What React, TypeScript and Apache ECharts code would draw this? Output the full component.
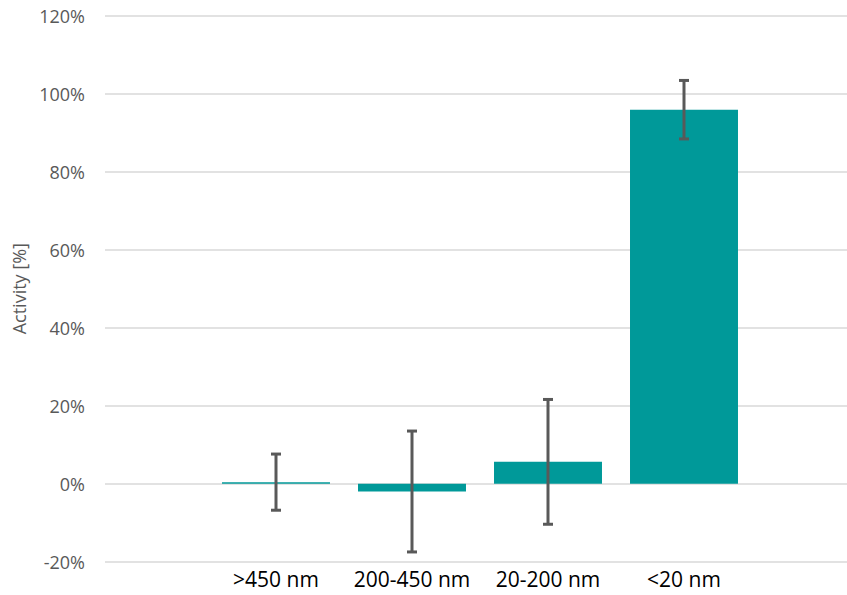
import React, { useEffect, useRef } from "react";
import * as echarts from "echarts";

const categories = [">450 nm", "200-450 nm", "20-200 nm", "<20 nm"];
const activityMean = [0.4, -2.0, 5.6, 95.9];
const activityError = [7.2, 15.5, 16.0, 7.5];
const yTicks = { min: -20, max: 120, interval: 20 };

export default function App() {
  const ref = useRef<HTMLDivElement>(null);
  useEffect(() => {
    if (!ref.current) return;
    const chart = echarts.init(ref.current, null, { renderer: "svg" });
    const font = "'Open Sans', 'Liberation Sans', sans-serif";
    const gridTop = 15.7;
    const gridBottom = 595 - 561.7;
    chart.setOption({
      animation: false,
      backgroundColor: "#ffffff",
      grid: [
        { left: 105, right: 0, top: gridTop, bottom: gridBottom },
        { left: 208, right: 95, top: gridTop, bottom: gridBottom },
      ],
      xAxis: [
        { type: "category", gridIndex: 0, data: [""], show: false },
        {
          type: "category",
          gridIndex: 1,
          data: categories,
          axisLine: { show: false },
          axisTick: { show: false },
          axisLabel: {
            color: "#000000",
            fontSize: 21,
            fontFamily: font,
            margin: 7,
            interval: 0,
            hideOverlap: false,
          },
        },
      ],
      yAxis: [
        {
          type: "value",
          gridIndex: 0,
          min: yTicks.min,
          max: yTicks.max,
          interval: yTicks.interval,
          name: "Activity [%]",
          nameLocation: "middle",
          nameGap: 75,
          nameTextStyle: { color: "#595959", fontSize: 18, fontFamily: font },
          axisLine: { show: false },
          axisTick: { show: false },
          axisLabel: { color: "#595959", fontSize: 18, fontFamily: font, margin: 20, formatter: "{value}%" },
          splitLine: { lineStyle: { color: "#d9d9d9", width: 1.5 } },
        },
        {
          type: "value",
          gridIndex: 1,
          min: yTicks.min,
          max: yTicks.max,
          interval: yTicks.interval,
          show: false,
          splitLine: { show: false },
        },
      ],
      series: [
        {
          type: "bar",
          xAxisIndex: 1,
          yAxisIndex: 1,
          data: activityMean,
          barWidth: "79.4%",
          itemStyle: { color: "#009999" },
        },
        {
          type: "custom",
          xAxisIndex: 1,
          yAxisIndex: 1,
          data: categories.map((c, i) => [i, activityMean[i], activityError[i]]),
          renderItem: (params: any, api: any) => {
            const x = api.value(0);
            const m = api.value(1);
            const e = api.value(2);
            const top = api.coord([x, m + e]);
            const bot = api.coord([x, m - e]);
            const half = 5;
            const style = { stroke: "#595959", lineWidth: 3 };
            return {
              type: "group",
              children: [
                { type: "line", shape: { x1: top[0], y1: top[1], x2: bot[0], y2: bot[1] }, style },
                { type: "line", shape: { x1: top[0] - half, y1: top[1], x2: top[0] + half, y2: top[1] }, style },
                { type: "line", shape: { x1: bot[0] - half, y1: bot[1], x2: bot[0] + half, y2: bot[1] }, style },
              ],
            };
          },
          z: 10,
        },
      ],
    });
    return () => chart.dispose();
  }, []);
  return (
    <div
      ref={ref}
      style={{ position: "fixed", left: 0, top: 0, width: 847, height: 595 }}
    />
  );
}
